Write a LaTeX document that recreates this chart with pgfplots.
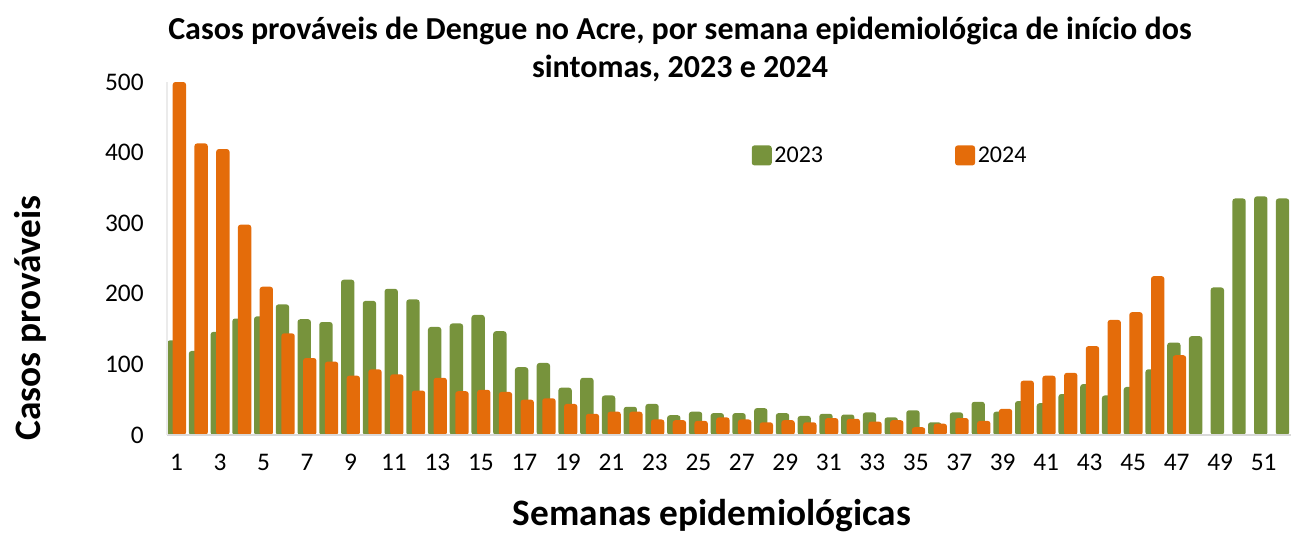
\documentclass[border=0pt]{standalone}
\usepackage{pgfplots}
\pgfplotsset{compat=1.18}
\usepackage{fontspec}
\setmainfont{Carlito}
\definecolor{g23}{RGB}{119,147,60}
\definecolor{o24}{RGB}{228,108,10}
\begin{document}
\begin{tikzpicture}
\useasboundingbox (0,0) rectangle (968.25pt,402pt);
\begin{axis}[
  at={(125.25pt,75.75pt)}, anchor=south west,
  scale only axis, width=843pt, height=264.75pt,
  xmin=0.56, xmax=52.26, ymin=0, ymax=500,
  ybar, bar width=10pt,
  axis on top,
  axis x line*=bottom, axis y line*=left,
  x axis line style={draw=black!15, line width=1.1pt, -},
  y axis line style={draw=black!8, line width=0.8pt, -},
  major tick length=0pt,
  xtick={1,3,...,51},
  ytick={0,100,...,500},
  /pgf/number format/assume math mode=true,
  tick label style={font=\fontsize{19}{22}\selectfont},
  yticklabel style={xshift=-14pt},
  xticklabel style={yshift=-11pt},
  clip=false,
  legend style={at={(0.52,0.792)}, anchor=west, draw=none, fill=none,
    inner sep=0pt, font=\fontsize{18}{21}\selectfont,
    nodes={inner xsep=2pt, inner ysep=0pt},
    /tikz/every even column/.append style={column sep=97pt}},
  legend columns=2,
  legend image code/.code={\fill[#1, rounded corners=2pt] (0pt,-7.5pt) rectangle (15pt,7.5pt);},
]
\addplot[fill=g23, draw=none, bar shift=-2.1pt, rounded corners=2pt] coordinates {
(1,134)(2,119)(3,146)(4,165)(5,168)(6,185)(7,164)(8,160)(9,220)(10,190)
(11,207)(12,192)(13,153)(14,158)(15,170)(16,147)(17,96)(18,102)(19,67)(20,81)
(21,56)(22,40)(23,44)(24,28)(25,33)(26,31)(27,31)(28,38)(29,31)(30,27)
(31,30)(32,29)(33,32)(34,25)(35,35)(36,18)(37,32)(38,47)(39,33)(40,48)
(41,45)(42,58)(43,72)(44,56)(45,68)(46,93)(47,131)(48,140)(49,209)(50,335)
(51,338)(52,335)};
\addlegendentry{2023}
\addplot[fill=o24, draw=none, bar shift=2.1pt, rounded corners=2pt] coordinates {
(1,500)(2,413)(3,405)(4,298)(5,210)(6,144)(7,109)(8,104)(9,84)(10,93)
(11,86)(12,63)(13,81)(14,62)(15,64)(16,61)(17,50)(18,52)(19,44)(20,30)
(21,33)(22,33)(23,22)(24,21)(25,20)(26,25)(27,22)(28,18)(29,21)(30,18)
(31,24)(32,23)(33,19)(34,21)(35,11)(36,16)(37,24)(38,20)(39,37)(40,77)
(41,84)(42,88)(43,126)(44,163)(45,174)(46,225)(47,113)};
\addlegendentry{2024}
\end{axis}
\node[font=\bfseries\fontsize{24}{28.5}\selectfont, align=center] at (510pt,365pt)
  {Casos prováveis de Dengue no Acre, por semana epidemiológica de início dos\\sintomas, 2023 e 2024};
\node[font=\bfseries\fontsize{28}{32}\selectfont, rotate=90] at (22.5pt,163.5pt) {Casos prováveis};
\node[font=\bfseries\fontsize{28}{32}\selectfont] at (534pt,15pt) {Semanas epidemiológicas};
\end{tikzpicture}
\end{document}
